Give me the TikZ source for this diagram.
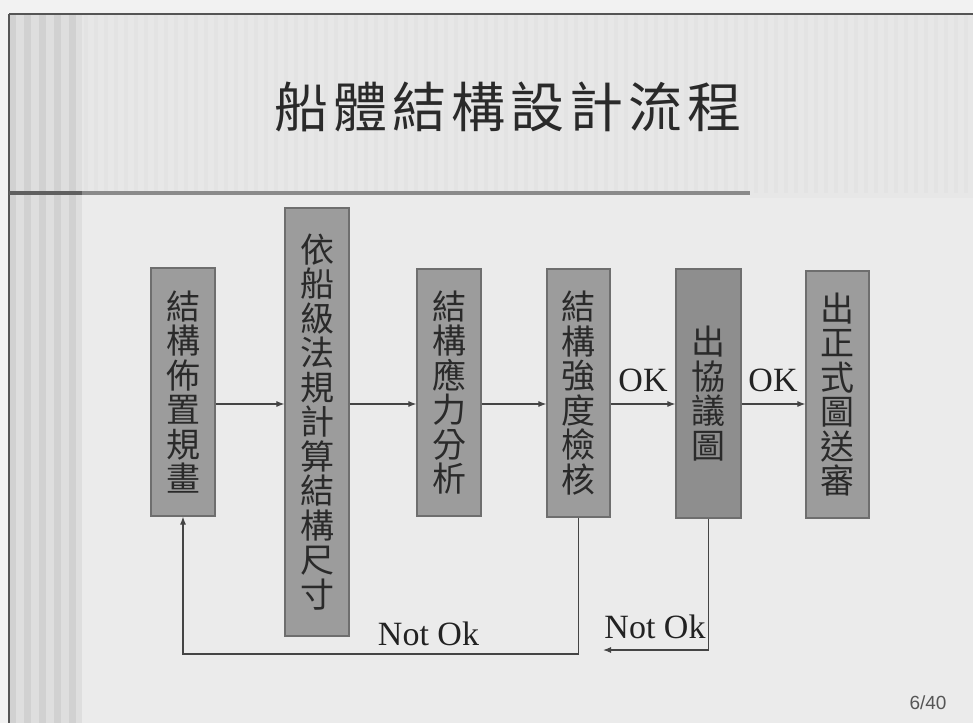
\documentclass[tikz,border=0pt]{standalone}
\usepackage{fontspec}
\setmainfont{Liberation Serif}
\newfontfamily\cjkfont{Noto Sans CJK TC}
\newfontfamily\pgsans{Liberation Sans}
\usetikzlibrary{arrows.meta}
\definecolor{outerbg}{HTML}{F2F2F2}
\definecolor{mainbg}{HTML}{EBEBEB}
\definecolor{headbg}{HTML}{E7E7E7}
\definecolor{headstripe}{HTML}{DDDDDD}
\definecolor{bandbg}{HTML}{DEDEDE}
\definecolor{bandstripe}{HTML}{CCCCCC}
\definecolor{framecol}{HTML}{555555}
\definecolor{rulecol}{HTML}{8A8A8A}
\definecolor{boxfill}{HTML}{9C9C9C}
\definecolor{boxfilldark}{HTML}{8E8E8E}
\definecolor{boxedge}{HTML}{6E6E6E}
\definecolor{boxtext}{HTML}{2A2A2A}
\definecolor{linecol}{HTML}{444444}
\definecolor{labelcol}{HTML}{222222}
\definecolor{pagecol}{HTML}{555555}
\begin{document}
\begin{tikzpicture}[x=1pt,y=-1pt,
  flowbox/.style={draw=boxedge, fill=boxfill, line width=1.2pt, minimum width=64pt,
    inner sep=0pt, text=boxtext, font=\cjkfont\fontsize{34}{34.5}\selectfont, align=center},
  flowarrow/.style={draw=linecol, line width=1.1pt, -{Latex[length=8pt,width=6pt]}},
  flowlabel/.style={text=labelcol, font=\fontsize{34}{36}\selectfont, inner sep=0pt}]
% background
\useasboundingbox (0,0) rectangle (973,723);
\fill[outerbg] (0,0) rectangle (973,723);
\fill[mainbg] (9,14) rectangle (973,723);
\fill[headbg] (82,14) rectangle (973,193);
\foreach \i in {0,...,89} {
  \fill[headstripe, opacity=0.4] (84+\i*10,14) rectangle ++(4,179);
}
\fill[headbg] (750,193) rectangle (973,198);
\fill[bandbg] (9,14) rectangle (82,723);
\foreach \xs in {9,24,39,54,69} {
  \fill[bandstripe, opacity=0.7] (\xs,14) rectangle ++(7,709);
}
\draw[framecol, line width=2.5pt] (9,14) -- (973,14);
\draw[framecol, line width=2.5pt] (9,14) -- (9,723);
\fill[rulecol] (9,191) rectangle (750,195);
\fill[framecol!80!rulecol] (9,191) rectangle (82,195);
% title
\node[font=\cjkfont\fontsize{54}{60}\selectfont, text=boxtext, inner sep=0pt] (title) at (508,107)
  {船\hspace{5pt}體\hspace{5pt}結\hspace{5pt}構\hspace{5pt}設\hspace{5pt}計\hspace{5pt}流\hspace{5pt}程};
% boxes
\node[flowbox, minimum height=248pt] (b1) at (183,392) {結\\構\\佈\\置\\規\\畫};
\node[flowbox, minimum height=428pt] (b2) at (317,422) {依\\船\\級\\法\\規\\計\\算\\結\\構\\尺\\寸};
\node[flowbox, minimum height=247pt] (b3) at (449,392.5) {結\\構\\應\\力\\分\\析};
\node[flowbox, minimum height=248pt, minimum width=63pt] (b4) at (578.5,393) {結\\構\\強\\度\\檢\\核};
\node[flowbox, fill=boxfilldark, minimum height=249pt, minimum width=65pt] (b5) at (708.5,393.5) {出\\協\\議\\圖};
\node[flowbox, minimum height=247pt, minimum width=63pt] (b6) at (837.5,394.5) {出\\正\\式\\圖\\送\\審};
% helper coordinates
\coordinate (yarr) at (0,404);
\coordinate (yloopA) at (0,654);
\coordinate (endB) at (603,650);
% arrows
\draw[flowarrow] (b1.east |- yarr) -- (b2.west |- yarr);
\draw[flowarrow] (b2.east |- yarr) -- (b3.west |- yarr);
\draw[flowarrow] (b3.east |- yarr) -- (b4.west |- yarr);
\draw[flowarrow] (b4.east |- yarr) -- (b5.west |- yarr);
\draw[flowarrow] (b5.east |- yarr) -- (b6.west |- yarr);
\draw[flowarrow] (b4.south) -- (b4.south |- yloopA) -- (b1.south |- yloopA) -- (b1.south);
\draw[flowarrow] (b5.south) |- (endB);
% labels
\node[flowlabel] (ok1) at (643,380) {OK};
\node[flowlabel] (ok2) at (773,380) {OK};
\node[flowlabel] (nok1) at (428.5,634) {Not Ok};
\node[flowlabel] (nok2) at (655,627) {Not Ok};
\node[font=\pgsans\fontsize{19}{19}\selectfont, text=pagecol, inner sep=0pt] (pg) at (928,703) {6/40};
\end{tikzpicture}
\end{document}
